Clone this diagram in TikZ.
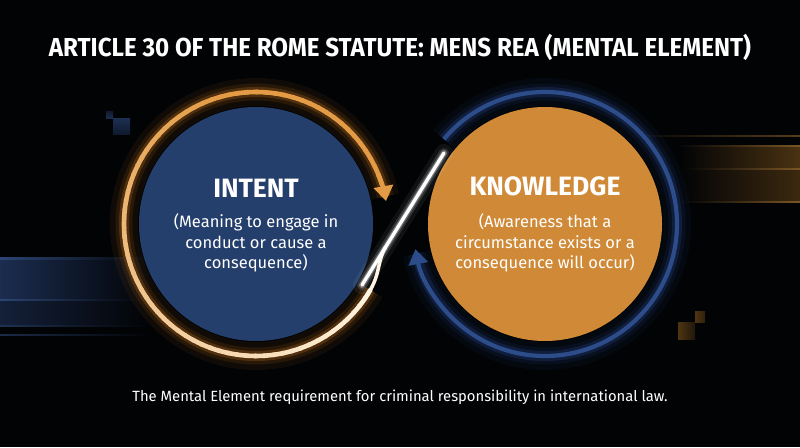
\documentclass[tikz,border=0pt]{standalone}
\usepackage{fontspec}
\usepackage{graphicx}
\setmainfont{Fira Sans}
\usetikzlibrary{arrows.meta}
\definecolor{bg}{HTML}{020305}
\definecolor{navy}{HTML}{253F6C}
\definecolor{amber}{HTML}{D08A37}
\definecolor{ringor}{HTML}{E39C45}
\definecolor{ringcream}{HTML}{FFF4E2}
\definecolor{ringblue}{HTML}{2D4C8A}
\definecolor{glowor}{HTML}{D07A1E}
\definecolor{glowbl}{HTML}{2A4C9A}
\definecolor{bandbl}{HTML}{1B2D50}
\definecolor{linebl}{HTML}{2C4574}
\definecolor{bandor}{HTML}{4A3212}
\definecolor{lineor}{HTML}{7A5524}
\definecolor{sqbl}{HTML}{1C2E50}
\definecolor{sqor}{HTML}{4E3512}
\tikzset{
  fillcircle/.style={circle, minimum size=234pt, inner sep=0pt},
  headtxt/.style={text=white, font=\fontsize{26.5}{30}\selectfont\bfseries},
  bodytxt/.style={text=white, align=center, font=\fontsize{16.5}{20.5}\selectfont},
  glowA/.style={line width=28pt, opacity=0.07},
  glowB/.style={line width=17pt, opacity=0.12},
  glowC/.style={line width=10pt, opacity=0.24},
}
\begin{document}
\begin{tikzpicture}[x=1pt,y=1pt]
\fill[bg] (0,0) rectangle (800,447);
\useasboundingbox (0,0) rectangle (800,447);

% ---- background decorations (left, blue)
\shade[left color=bandbl, right color=bg] (0,147) rectangle (150,188);
\shade[left color=bandbl!70!bg, right color=bg] (0,121) rectangle (150,147);
\shade[left color=linebl, right color=bg] (0,187.5) rectangle (150,189);
\shade[left color=linebl, right color=bg] (0,146.2) rectangle (150,147.7);
\shade[left color=linebl!70!bg, right color=bg] (0,120.5) rectangle (150,121.7);
\shade[left color=linebl!60!bg, right color=bg] (0,111.5) rectangle (150,112.7);
\shade[top color=sqbl!60!bg, bottom color=sqbl] (106,328) rectangle (113,335);
\shade[top color=sqbl, bottom color=sqbl!50!bg] (113,312) rectangle (130,328);

% ---- background decorations (right, orange)
\shade[left color=bg, right color=bandor] (680,278) rectangle (800,301);
\shade[left color=bg, right color=bandor!80!bg] (680,245) rectangle (800,278);
\shade[left color=bg, right color=lineor!70!bg] (630,310.5) rectangle (800,311.7);
\shade[left color=bg, right color=lineor] (675,300.3) rectangle (800,301.6);
\shade[left color=bg, right color=lineor] (680,277.3) rectangle (800,278.6);
\shade[left color=bg, right color=lineor] (680,244.5) rectangle (800,245.8);
\shade[left color=sqor, right color=sqor!40!bg] (678,107) rectangle (695,124);
\shade[left color=sqor, right color=sqor!60!bg] (695,124) rectangle (705,135);

% ---- centres and key points
\coordinate (L) at (256,223);
\coordinate (R) at (545,223);
\coordinate (lineA) at (362,162);
\coordinate (lineB) at (444,294);
\coordinate (merge) at (385.6,200);

% ---- filled circles
\node[fillcircle, fill=navy] (intent) at (L) {};
\node[fillcircle, fill=amber] (knowledge) at (R) {};

% ---- right (blue) ring with glow
\foreach \s in {glowA,glowB,glowC}
  \draw[glowbl, \s] (R) ++(140:132) arc[start angle=140, end angle=-167, radius=132];
\draw[ringblue, line width=4.2pt, -{Triangle[length=15pt,width=19pt]}]
  (R) ++(140:132) arc[start angle=140, end angle=-169, radius=132];

% ---- left (orange) ring with glow
\foreach \s in {glowA,glowB,glowC}
  \draw[glowor, \s] (L) ++(-30:132) arc[start angle=-30, end angle=-348, radius=132];
\foreach \a [evaluate=\a as \p using {min(100,max(0,(-30-\a)*0.45))}] in {-30,-34,...,-338}
  \draw[ringor!\p!ringcream, line width=4.6pt, line cap=round]
    (L) ++(\a:132) arc[start angle=\a, end angle=\a-4.5, radius=132];
\draw[ringor, line width=4.6pt, -{Triangle[length=15pt,width=19pt]}]
  (L) ++(-338:132) arc[start angle=-338, end angle=-350, radius=132];
\draw[ringcream, line width=3.5pt, line cap=round]
  (L) ++(-30:132) .. controls +(10,17.3) and (377.7,187.3) .. (merge);

% ---- white diagonal line with glow
\draw[white, line width=18pt, opacity=0.06, line cap=round] (lineA) -- (lineB);
\draw[white, line width=10pt, opacity=0.14, line cap=round] (lineA) -- (lineB);
\draw[white, line width=6pt, opacity=0.3, line cap=round] (lineA) -- (lineB);
\draw[white, line width=3.4pt, line cap=round] (lineA) -- (lineB);

% ---- texts
\node[text=white, font=\fontsize{26}{30}\selectfont\bfseries] (title) at (400,400)
  {\scalebox{0.93}[1]{ARTICLE 30 OF THE ROME STATUTE: MENS REA (MENTAL ELEMENT)}};
\node[headtxt] (intenthead) at (256,259) {INTENT};
\node[bodytxt] (intentbody) at (256,204) {(Meaning to engage in\\conduct or cause a\\consequence)};
\node[headtxt] (knowhead) at (545,261) {KNOWLEDGE};
\node[bodytxt] (knowbody) at (545,204) {(Awareness that a\\circumstance exists or a\\consequence will occur)};
\node[text=white, font=\fontsize{14.8}{18}\selectfont] (caption) at (400,50)
  {The Mental Element requirement for criminal responsibility in international law.};
\end{tikzpicture}
\end{document}
